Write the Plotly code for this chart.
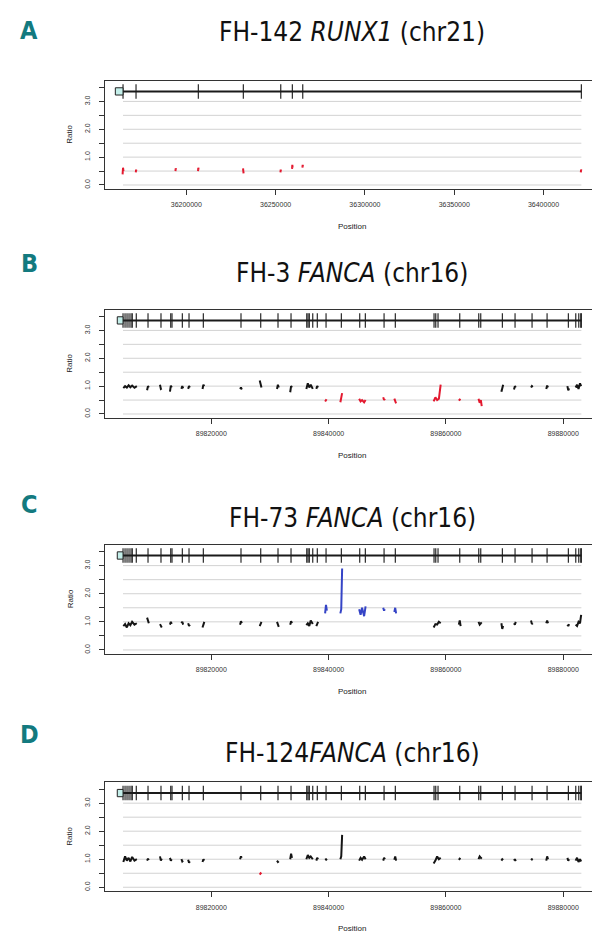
import plotly.graph_objects as go

W, H = 600, 934

# ---------------- data ----------------
# panel A: RUNX1, sample FH-142
runx1_exons = [36164550, 36171830, 36206720, 36231920, 36252860, 36259360, 36265180, 36421200]
runx1_utr = [36160240, 36164550]
runx1_probe_pos = [
    [36164300, 36164550, 36164800],
    [36171700, 36171850, 36172000],
    [36193900, 36194050, 36194200],
    [36206550, 36206700, 36206850],
    [36231750, 36231900, 36232050],
    [36252700, 36252850, 36253000],
    [36259200, 36259350, 36259500],
    [36265000, 36265150, 36265300],
    [36420900, 36421050, 36421200],
]
fh142_ratio = [
    [0.38, 0.62, 0.5], [0.45, 0.55, 0.5], [0.5, 0.6, 0.55], [0.5, 0.62, 0.55],
    [0.6, 0.5, 0.42], [0.45, 0.55, 0.5], [0.58, 0.72, 0.62], [0.62, 0.72, 0.66],
    [0.45, 0.55, 0.52],
]
fh142_calls = ["loss"] * 9

# panels B-D: FANCA, samples FH-3, FH-73, FH-124
fanca_exons = [89804950, 89805290, 89805630, 89805970, 89806310, 89806530, 89807210,
               89809210, 89811420, 89813080, 89813300, 89815060, 89816200, 89818640,
               89825060, 89828420, 89831370, 89833590, 89836270, 89836490, 89836710,
               89837290, 89838070, 89839560, 89842170, 89845300, 89846260, 89849450,
               89851370, 89857970, 89858260, 89858650, 89862350, 89865590, 89865930,
               89869620, 89871780, 89874680, 89877240, 89880870, 89882130, 89882640,
               89882980, 89883085]
fanca_utr = [89803970, 89804950]
fanca_probe_pos = [
    [89805000, 89805300, 89805600, 89805900, 89806200, 89806500, 89806900, 89807300],
    [89809050, 89809200, 89809350],
    [89811250, 89811400, 89811550],
    [89812950, 89813100, 89813250],
    [89814900, 89815050, 89815200],
    [89816050, 89816200, 89816350],
    [89818500, 89818650, 89818800],
    [89824900, 89825050, 89825200],
    [89828250, 89828400, 89828550],
    [89831200, 89831350, 89831500],
    [89833450, 89833600, 89833750],
    [89836200, 89836450, 89836700, 89836950, 89837300],
    [89837900, 89838050, 89838200],
    [89839400, 89839550, 89839700],
    [89842000, 89842150, 89842300],
    [89845200, 89845450, 89845700, 89846050, 89846300],
    [89849300, 89849450, 89849600],
    [89851200, 89851350, 89851500],
    [89857900, 89858200, 89858500, 89858800, 89859100],
    [89862200, 89862350, 89862500],
    [89865550, 89865750, 89865950, 89866100],
    [89869450, 89869600, 89869750],
    [89871600, 89871750, 89871900],
    [89874500, 89874650, 89874800],
    [89877100, 89877250, 89877400],
    [89880700, 89880850, 89881000],
    [89882100, 89882350, 89882600, 89882850, 89883050],
]
fh3_ratio = [
    [0.93, 1.0, 0.95, 1.03, 0.96, 1.02, 0.94, 1.0], [0.85, 1.0, 0.95], [1.05, 0.9, 0.92],
    [0.8, 1.02, 0.95], [0.9, 1.0, 0.92], [0.9, 1.0, 0.95], [0.9, 1.05, 1.0],
    [0.9, 0.95, 0.88], [1.2, 1.05, 0.95], [0.9, 1.05, 0.95], [0.78, 1.0, 0.95],
    [0.9, 1.1, 0.95, 1.05, 0.9], [0.9, 1.0, 0.95], [0.45, 0.5, 0.48], [0.42, 0.55, 0.75],
    [0.55, 0.45, 0.5, 0.42, 0.5], [0.6, 0.5, 0.55], [0.55, 0.45, 0.38],
    [0.45, 0.6, 0.5, 0.55, 1.05], [0.48, 0.52, 0.5], [0.55, 0.4, 0.5, 0.28],
    [0.8, 1.0, 1.05], [0.88, 1.0, 0.95], [0.95, 1.0, 0.97], [0.9, 1.02, 0.95],
    [1.0, 0.85, 0.92], [0.95, 1.05, 0.9, 1.1, 1.0],
]
fh3_calls = ["n"] * 13 + ["loss"] * 8 + ["n"] * 6
fh73_ratio = [
    [0.85, 0.92, 0.8, 0.95, 0.88, 1.0, 0.9, 0.95], [1.15, 1.0, 0.95], [0.92, 0.85, 0.8],
    [0.9, 1.0, 0.93], [0.95, 1.0, 0.9], [0.95, 0.85, 0.9], [0.8, 0.95, 1.0],
    [0.9, 1.02, 0.95], [0.85, 0.95, 1.0], [1.0, 0.88, 0.82], [0.9, 1.02, 0.95],
    [0.88, 0.95, 0.85, 1.05, 0.92], [0.85, 0.95, 1.0], [1.3, 1.6, 1.4], [1.3, 1.45, 2.9],
    [1.45, 1.25, 1.5, 1.2, 1.55], [1.5, 1.4, 1.45], [1.35, 1.5, 1.3],
    [0.8, 0.92, 0.9, 1.0, 0.95], [0.9, 1.05, 0.85], [1.0, 0.9, 0.95, 0.98],
    [0.95, 0.75, 0.85], [0.95, 0.9, 1.0], [1.05, 0.92, 0.95], [0.95, 1.05, 0.95],
    [0.9, 0.85, 0.92], [0.9, 0.85, 1.0, 0.95, 1.25],
]
fh73_calls = ["n"] * 13 + ["gain"] * 5 + ["n"] * 9
fh124_ratio = [
    [0.9, 1.1, 0.95, 1.05, 0.92, 1.08, 0.95, 1.0], [0.95, 1.02, 0.97], [1.1, 0.95, 1.02],
    [1.05, 0.95, 1.0], [1.0, 0.92, 0.95], [0.98, 0.88, 0.92], [0.9, 1.0, 0.95],
    [1.0, 1.1, 1.05], [0.45, 0.5, 0.47], [0.95, 0.9, 0.93], [1.0, 1.2, 1.05],
    [1.0, 1.15, 1.05, 1.1, 1.0], [0.95, 1.05, 1.0], [0.98, 1.0, 0.96], [1.0, 1.1, 1.87],
    [0.95, 1.05, 0.98, 1.1, 1.0], [0.95, 1.05, 1.0], [0.98, 1.1, 0.95],
    [0.85, 0.95, 1.1, 1.0, 1.05], [0.98, 1.02, 1.0], [1.0, 1.1, 1.05, 1.02],
    [0.95, 1.0, 0.97], [0.95, 1.0, 0.93], [0.97, 1.0, 0.98], [0.95, 1.1, 1.0],
    [1.05, 0.95, 1.0], [0.95, 1.05, 0.9, 1.0, 0.92],
]
fh124_calls = ["n"] * 8 + ["loss"] + ["n"] * 18

runx1_ticks = [36200000, 36250000, 36300000, 36350000, 36400000]
fanca_ticks = [89820000, 89840000, 89860000, 89880000]
grid_levels = [0.0, 0.5, 1.0, 1.5, 2.0, 2.5, 3.0]
ratio_ticks = [0.0, 0.5, 1.0, 1.5, 2.0, 2.5, 3.0, 3.5]
ratio_labels = ["0.0", "", "1.0", "", "2.0", "", "3.0", ""]

# ---------------- layout helpers ----------------
CALL_COLORS = {"n": "#151515", "loss": "#e3192f", "gain": "#3544c6"}
TRACK_Y = 3.36
BOX_L, BOX_R = 96.7, 591.7

panels = [
    dict(letter="A", title="FH-142 <i>RUNX1</i> (chr21)", exons=runx1_exons, utr=runx1_utr,
         pos=runx1_probe_pos, ratio=fh142_ratio, calls=fh142_calls, ticks=runx1_ticks,
         box=(72.7, 181.0), title_y=24, letter_y=23),
    dict(letter="B", title="FH-3 <i>FANCA</i> (chr16)", exons=fanca_exons, utr=fanca_utr,
         pos=fanca_probe_pos, ratio=fh3_ratio, calls=fh3_calls, ticks=fanca_ticks,
         box=(301.7, 410.0), title_y=265, letter_y=255),
    dict(letter="C", title="FH-73 <i>FANCA</i> (chr16)", exons=fanca_exons, utr=fanca_utr,
         pos=fanca_probe_pos, ratio=fh73_ratio, calls=fh73_calls, ticks=fanca_ticks,
         box=(536.7, 646.0), title_y=510, letter_y=496),
    dict(letter="D", title="FH-124<i>FANCA</i> (chr16)", exons=fanca_exons, utr=fanca_utr,
         pos=fanca_probe_pos, ratio=fh124_ratio, calls=fh124_calls, ticks=fanca_ticks,
         box=(774.3, 883.3), title_y=745, letter_y=726),
]


def px_x(px):
    return px / W


def px_y(py):
    return 1 - py / H


TITLE_FONT = "Liberation Sans Narrow, DejaVu Sans Condensed, Arial Narrow, sans-serif"
SMALL_FONT = dict(family="Liberation Sans, Arial, sans-serif", size=7, color="#333")

fig = go.Figure()
shapes = []
annotations = []

for i, p in enumerate(panels, start=1):
    sfx = "" if i == 1 else str(i)
    xa, ya = "x" + sfx, "y" + sfx
    lo, hi = min(p["exons"]), max(p["exons"])
    pad = 0.04 * (hi - lo)

    # horizontal reference lines across the gene
    for g in grid_levels:
        shapes.append(dict(type="line", xref=xa, yref=ya, x0=lo, x1=hi, y0=g, y1=g,
                           line=dict(color="#d2d2d2", width=1), layer="below"))
    # gene backbone + UTR box
    shapes.append(dict(type="line", xref=xa, yref=ya, x0=lo, x1=hi, y0=TRACK_Y, y1=TRACK_Y,
                       line=dict(color="#1a1a1a", width=2)))
    shapes.append(dict(type="rect", xref=xa, yref=ya, x0=p["utr"][0], x1=p["utr"][1],
                       y0=TRACK_Y - 0.13, y1=TRACK_Y + 0.13,
                       fillcolor="#c4efea", line=dict(color="#222", width=1)))

    # exon ticks
    ex, ey = [], []
    for e in p["exons"]:
        ex += [e, e, None]
        ey += [TRACK_Y - 0.26, TRACK_Y + 0.26, None]
    fig.add_trace(go.Scatter(x=ex, y=ey, mode="lines", line=dict(color="#2a2a2a", width=1.2),
                             xaxis=xa, yaxis=ya, hoverinfo="skip", showlegend=False))

    # probe ratios grouped by call
    for call in ["n", "loss", "gain"]:
        px_, py_ = [], []
        for pos, rat, c in zip(p["pos"], p["ratio"], p["calls"]):
            if c == call:
                px_ += pos + [None]
                py_ += rat + [None]
        if px_:
            fig.add_trace(go.Scatter(x=px_, y=py_, mode="lines",
                                     line=dict(color=CALL_COLORS[call], width=2),
                                     xaxis=xa, yaxis=ya, showlegend=False))

    top, bot = p["box"]
    fig.layout["xaxis" + sfx] = dict(
        domain=[px_x(BOX_L), px_x(BOX_R)], anchor=ya, range=[lo - pad, hi + pad],
        tickvals=p["ticks"], ticktext=[str(t) for t in p["ticks"]],
        ticks="outside", ticklen=5, tickcolor="#333", ticklabelstandoff=4,
        tickfont=SMALL_FONT, showgrid=False, zeroline=False,
        showline=True, mirror=True, linecolor="#333", linewidth=1)
    fig.layout["yaxis" + sfx] = dict(
        domain=[px_y(bot), px_y(top)], anchor=xa, range=[-0.144, 3.744],
        tickvals=ratio_ticks, ticktext=ratio_labels, tickangle=-90,
        ticks="outside", ticklen=5, tickcolor="#333", ticklabelstandoff=6,
        tickfont=SMALL_FONT, showgrid=False, zeroline=False,
        showline=True, mirror=True, linecolor="#333", linewidth=1)

    mid = (BOX_L + BOX_R) / 2
    annotations += [
        dict(text=p["title"], x=px_x(mid), y=px_y(p["title_y"]), xref="paper", yref="paper",
             showarrow=False, xanchor="center", yanchor="middle",
             font=dict(family=TITLE_FONT, size=26, color="#111")),
        dict(text="<b>" + p["letter"] + "</b>", x=px_x(21), y=px_y(p["letter_y"]),
             xref="paper", yref="paper", showarrow=False, xanchor="center", yanchor="middle",
             font=dict(family=TITLE_FONT, size=25, color="#137a7f")),
        dict(text="Ratio", x=px_x(62), y=px_y((top + bot) / 2), xref="paper", yref="paper",
             showarrow=False, textangle=-90, xanchor="center", yanchor="middle",
             font=dict(family="Liberation Sans, Arial, sans-serif", size=8, color="#222")),
        dict(text="Position", x=px_x(mid), y=px_y(bot + 37), xref="paper", yref="paper",
             showarrow=False, xanchor="center", yanchor="middle",
             font=dict(family="Liberation Sans, Arial, sans-serif", size=8, color="#222")),
    ]

fig.update_layout(width=W, height=H, margin=dict(l=0, r=0, t=0, b=0),
                  plot_bgcolor="white", paper_bgcolor="white",
                  shapes=shapes, annotations=annotations, showlegend=False)

fig.write_html("out.html")
